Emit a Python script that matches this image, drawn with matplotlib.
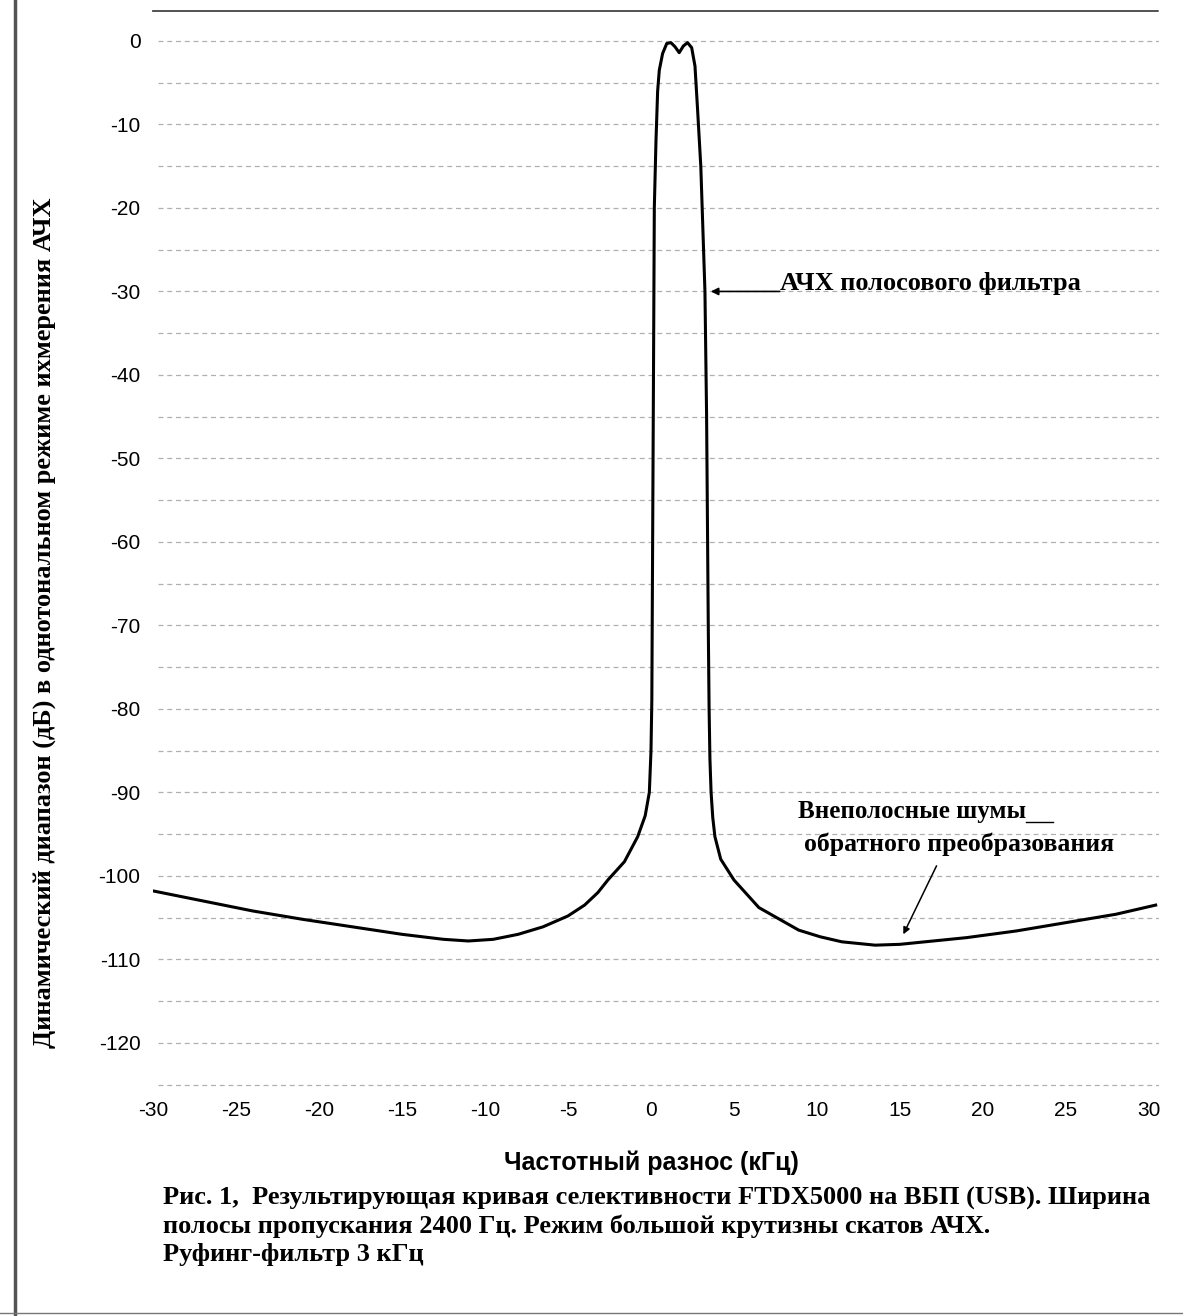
import matplotlib
matplotlib.use("Agg")
import matplotlib.pyplot as plt
from matplotlib.lines import Line2D

# Curve: frequency offset (kHz) vs level (dB)
freq_khz = [-30, -27, -24, -21, -18, -15, -12.5, -11, -9.5, -8, -6.5, -5, -4, -3.2,
            -2.6, -1.6, -0.8, -0.35, -0.1, 0.0, 0.05, 0.15, 0.2, 0.3, 0.4, 0.5, 0.7,
            0.95, 1.2, 1.45, 1.7, 1.95, 2.2, 2.45, 2.65, 2.8, 3.0, 3.25, 3.35, 3.45,
            3.5, 3.55, 3.62, 3.72, 3.85, 4.2, 5.0, 6.5, 8.9, 10.2, 11.5, 13.5, 15,
            17, 19, 22, 25, 28, 30.4]
level_db = [-101.8, -103, -104.2, -105.2, -106.1, -107, -107.6, -107.8, -107.6,
            -107.0, -106.1, -104.8, -103.5, -102.0, -100.5, -98.3, -95.3, -92.8,
            -90, -85, -79, -40, -20, -12, -6, -3.5, -1.5, -0.3, -0.2, -0.7, -1.4,
            -0.6, -0.2, -0.8, -3, -8, -15, -30, -45, -70, -80, -86, -90, -93,
            -95.3, -98, -100.5, -103.8, -106.5, -107.3, -107.9, -108.3, -108.2,
            -107.8, -107.4, -106.6, -105.6, -104.6, -103.5]

x_ticks = [-30, -25, -20, -15, -10, -5, 0, 5, 10, 15, 20, 25, 30]
x_labels = ["-30", "-25", "-20", "-15", "-10", "-5", "0", "5", "10", "15", "20", "25", "30"]
y_ticks = [0, -10, -20, -30, -40, -50, -60, -70, -80, -90, -100, -110, -120]
y_grid = [0, -5, -10, -15, -20, -25, -30, -35, -40, -45, -50, -55, -60, -65,
          -70, -75, -80, -85, -90, -95, -100, -105, -110, -115, -120, -125]

serif = ["Liberation Serif", "DejaVu Serif"]
sans = ["Liberation Sans", "DejaVu Sans"]

fig = plt.figure(figsize=(11.83, 13.16), dpi=100)
ax = fig.add_axes([0.1293, 0.1695, 0.8504, 0.8222])

for g in y_grid:
    ax.axhline(g, xmin=0.005, xmax=1.0, color="#b0b0b0", lw=0.9,
               linestyle=(0, (4, 3)), zorder=1)

ax.plot(freq_khz, level_db, color="black", lw=2.2, zorder=3)

ax.set_xlim(-30, 30.6)
ax.set_ylim(-126, 3.6)
ax.set_xticks(x_ticks)
ax.set_xticklabels(x_labels, fontfamily=sans, fontsize=15)
ax.set_yticks(y_ticks)
ax.set_yticklabels([str(t) for t in y_ticks], fontfamily=sans, fontsize=15)
ax.tick_params(length=0)
ax.tick_params(axis="y", pad=9)
ax.tick_params(axis="x", pad=6)

for s in ["left", "right", "bottom"]:
    ax.spines[s].set_visible(False)
ax.spines["top"].set_linestyle((0, (1.5, 1)))
ax.spines["top"].set_color("#444444")
ax.spines["top"].set_linewidth(1.3)

# annotations
ax.annotate("", xy=(3.6, -30), xytext=(7.75, -30),
            arrowprops=dict(arrowstyle="-|>", color="black", lw=1.2,
                            mutation_scale=11, shrinkA=0, shrinkB=0))
ax.text(7.75, -29.0, "АЧХ полосового фильтра", fontfamily=serif,
        fontweight="bold", fontsize=19, ha="left", va="center")

ax.text(8.85, -92.3, "Внеполосные шумы", fontfamily=serif,
        fontweight="bold", fontsize=18, ha="left", va="center")
ax.plot([22.6, 24.2], [-93.6, -93.6], color="black", lw=1.0)
ax.text(9.2, -96.2, "обратного преобразования", fontfamily=serif,
        fontweight="bold", fontsize=18.5, ha="left", va="center")
ax.annotate("", xy=(15.2, -107.0), xytext=(17.2, -98.8),
            arrowprops=dict(arrowstyle="-|>", color="black", lw=1.1,
                            mutation_scale=10, shrinkA=0, shrinkB=0))

fig.text(0.551, 0.1163, "Частотный разнос (кГц)", fontfamily=sans,
         fontweight="bold", fontsize=18, ha="center", va="center")
fig.text(0.038, 0.527,
         "Динамический диапазон (дБ) в однотональном режиме ихмерения АЧХ",
         fontfamily=serif, fontweight="bold", fontsize=19, rotation=90,
         ha="center", va="center")

caption = ["Рис. 1,  Результирующая кривая селективности FTDX5000 на ВБП (USB). Ширина",
           "полосы пропускания 2400 Гц. Режим большой крутизны скатов АЧХ.",
           "Руфинг-фильтр 3 кГц"]
for i, line in enumerate(caption):
    fig.text(0.138, 0.0895 - i * 0.0215, line, fontfamily=serif,
             fontweight="bold", fontsize=19, ha="left", va="center")

# scan edges
fig.add_artist(Line2D([0.013, 0.013], [0.0, 1.0], color="#555555", lw=2.5))
fig.add_artist(Line2D([0.0, 1.0], [0.002, 0.002], color="#777777", lw=1.0))

fig.savefig("out.png", dpi=100)
